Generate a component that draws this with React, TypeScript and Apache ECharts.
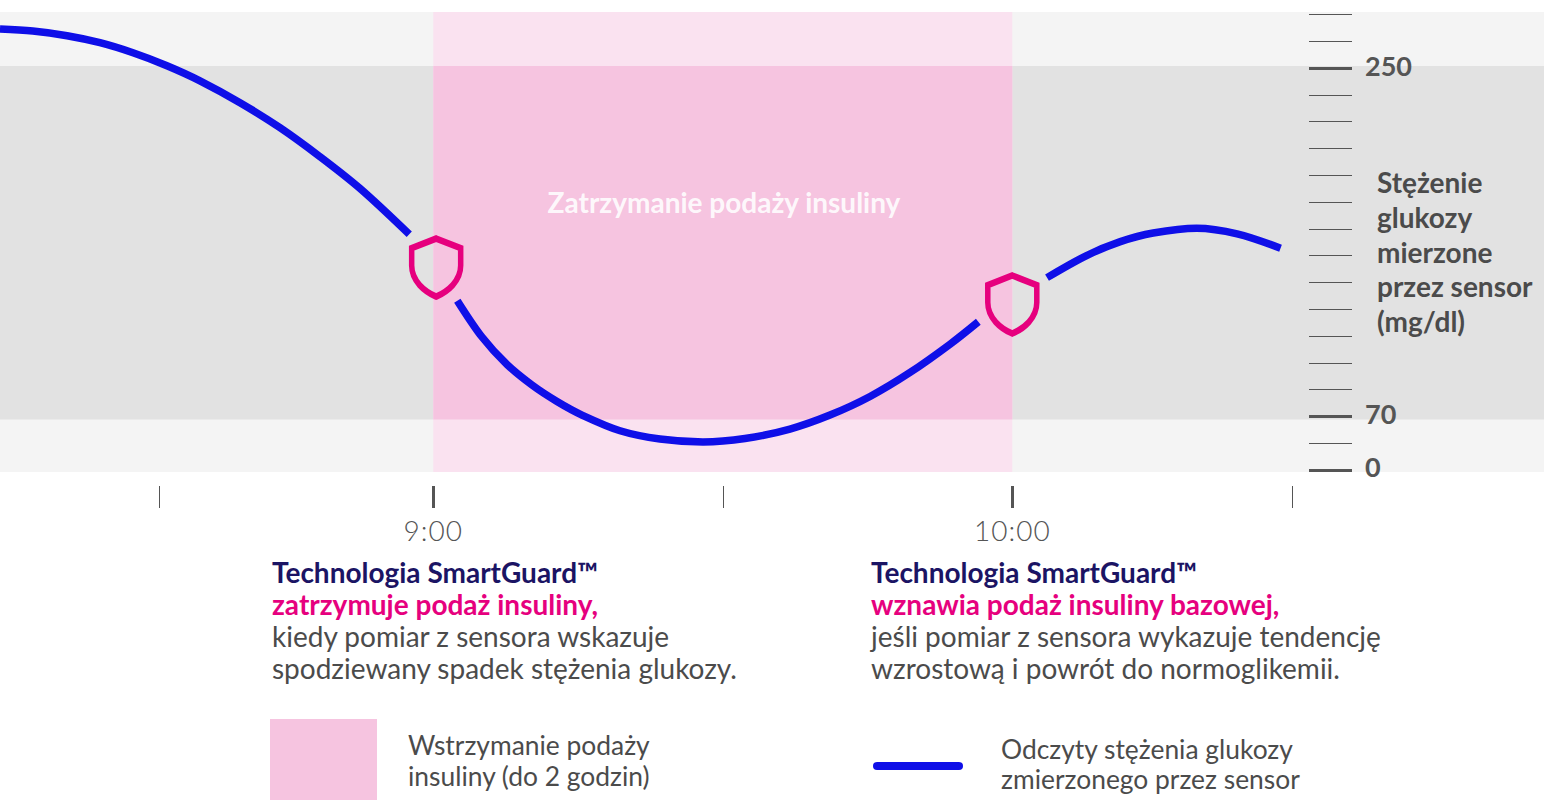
import React, { useEffect, useRef } from "react";
import * as echarts from "echarts";

// x in minutes after 9:00, y in mg/dL
const curveBefore: [number, number][] = [[-44.9, 270.1], [-41.5, 269.1], [-37.95, 266.7], [-34.54, 263.1], [-31.12, 257.9], [-27.6, 251.2], [-24.18, 243.4], [-20.03, 232.1], [-15.89, 219.2], [-11.74, 204.2], [-7.6, 187.8], [-2.49, 164.1]];
const curveDuring: [number, number][] = [[2.49, 129.8], [5.05, 111], [7.64, 96.8], [10.23, 86.2], [12.82, 77.7], [15.41, 70.7], [19.35, 51.3], [23.49, 40.5], [27.95, 36.6], [32.3, 41.1], [36.96, 53.5], [41.11, 70.7], [45.26, 80.3], [49.41, 92.7], [53.55, 107.3], [56.48, 118.9]];
const curveAfter: [number, number][] = [[63.6, 141.7], [67.7, 153.1], [71.2, 160.3], [74.6, 164.75], [79.1, 167.2], [83.3, 164.3], [87.8, 156.9]];
const shieldPoints: [number, number][] = [[0.3, 146.9], [60, 127.8]];

const suspendRange = [0, 60];
const targetRange = [66, 251];
const xMajorTicks = [0, 60];
const xMinorTicks = [-28.4, 30, 89];
const xLabels: Record<number, string> = { 0: "9:00", 60: "10:00" };
const yMajorTicks = [0, 70, 250];
const yMinorTicks = [35, 83.85, 97.69, 111.54, 125.38, 139.23, 153.08, 166.92, 180.77, 194.62, 208.46, 222.31, 236.15, 263.85, 277.69];

const left1 = ["Technologia SmartGuard™", "zatrzymuje podaż insuliny,", "kiedy pomiar z sensora wskazuje", "spodziewany spadek stężenia glukozy."];
const left2 = ["Technologia SmartGuard™", "wznawia podaż insuliny bazowej,", "jeśli pomiar z sensora wykazuje tendencję", "wzrostową i powrót do normoglikemii."];
const yTitle = "Stężenie\nglukozy\nmierzone\nprzez sensor\n(mg/dl)";
const pauseText = "Zatrzymanie podaży insuliny";
const legendPause = "Wstrzymanie podaży\ninsuliny (do 2 godzin)";
const legendCurve = "Odczyty stężenia glukozy\nzmierzonego przez sensor";

const FONT = "Lato";
const GREY = "#4b4b4b";
const NAVY = "#1b1464";
const PINK = "#e6007e";
const BLUE = "#0f0fe8";

// The axis is stretched between 0-70 and 70-250: 2 steps and 13 steps of equal length.
const toStep = (v: number) => (v <= 70 ? v / 35 : 2 + (v - 70) / (180 / 13));
const fromStep = (s: number) => (s <= 2 ? s * 35 : 70 + (s - 2) * (180 / 13));
const yMin = -0.075;
const yMax = 17.09;
const xMin = -44.9;
const xMax = 115.1;
const mapCurve = (c: [number, number][]) => c.map(([x, v]) => [x, toStep(v)]);

const SHIELD = "path://M24.5 0L49 10V28C49 44 36 55 24.5 60C13 55 0 44 0 28V10Z";

const textBlock = (x: number, lines: string[]) =>
  lines.map((t, i) => ({
    type: "text",
    x,
    y: 572 + i * 32,
    style: {
      text: t,
      fill: i === 0 ? NAVY : i === 1 ? PINK : GREY,
      font: `${i < 2 ? 700 : 400} 28px ${FONT}`,
      textVerticalAlign: "middle",
    },
  }));

export default function App() {
  const ref = useRef<HTMLDivElement>(null);
  useEffect(() => {
    const chart = echarts.init(ref.current!, undefined, { renderer: "svg" });
    const band = (x0: number, x1: number, v0: number, v1: number, color: string) => [
      { xAxis: x0, yAxis: v0, itemStyle: { color, opacity: 1 } },
      { xAxis: x1, yAxis: v1 },
    ];
    const low = toStep(targetRange[0]);
    const high = toStep(targetRange[1]);
    const lineSeries = (c: [number, number][]) => ({
      type: "line",
      data: mapCurve(c),
      smooth: 0.33,
      showSymbol: false,
      z: 4,
      lineStyle: { color: BLUE, width: 7.5, cap: "butt" },
      silent: true,
    });
    const axisX = (ticks: number[], width: number, labels: boolean) => ({
      type: "value",
      min: xMin,
      max: xMax,
      position: "bottom",
      offset: 14,
      splitLine: { show: false },
      axisLine: { show: false, onZero: false },
      axisTick: { show: true, customValues: ticks, length: 22, lineStyle: { color: "#555", width } },
      axisLabel: labels
        ? {
            show: true,
            customValues: ticks,
            margin: 30,
            color: "#555",
            fontFamily: FONT,
            fontWeight: 300,
            fontSize: 28,
            formatter: (v: number) => xLabels[v] ?? "",
          }
        : { show: false },
    });
    const axisY = (ticks: number[], width: number, labels: boolean) => ({
      type: "value",
      min: yMin,
      max: yMax,
      position: "right",
      offset: -235,
      z: 3,
      splitLine: { show: false },
      axisLine: { show: false, onZero: false },
      axisTick: { show: true, customValues: ticks.map(toStep), length: 43, lineStyle: { color: "#555", width } },
      axisLabel: labels
        ? {
            show: true,
            customValues: ticks.map(toStep),
            margin: 56,
            color: "#555",
            fontFamily: FONT,
            fontWeight: 700,
            fontSize: 27,
            verticalAlign: "bottom",
            lineHeight: 6,
            formatter: (s: number) => String(Math.round(fromStep(s))),
          }
        : { show: false },
    });
    chart.setOption({
      animation: false,
      backgroundColor: "#ffffff",
      grid: { left: 0, top: 12, width: 1544, height: 460, containLabel: false },
      xAxis: [axisX(xMajorTicks, 3, true), axisX(xMinorTicks, 1, false)],
      yAxis: [axisY(yMajorTicks, 3, true), axisY(yMinorTicks, 1, false)],
      series: [
        {
          type: "line",
          data: [],
          z: 1,
          silent: true,
          markArea: {
            silent: true,
            data: [
              band(xMin, xMax, yMin, yMax, "#f4f4f4"),
              band(xMin, xMax, low, high, "#e2e2e2"),
              band(suspendRange[0], suspendRange[1], yMin, yMax, "#fae2f0"),
              band(suspendRange[0], suspendRange[1], low, high, "#f6c4e0"),
            ],
          },
        },
        lineSeries(curveBefore),
        lineSeries(curveDuring),
        lineSeries(curveAfter),
        {
          type: "scatter",
          data: mapCurve(shieldPoints),
          symbol: SHIELD,
          symbolSize: [49, 58],
          z: 5,
          silent: true,
          itemStyle: { color: "rgba(0,0,0,0)", borderColor: PINK, borderWidth: 6, opacity: 1 },
        },
      ],
      graphic: [
        {
          type: "text",
          x: 724,
          y: 202,
          z: 6,
          style: { text: pauseText, fill: "rgba(255,255,255,0.9)", font: `700 28px ${FONT}`, textAlign: "center", textVerticalAlign: "middle" },
        },
        {
          type: "text",
          x: 1377,
          y: 165,
          z: 6,
          style: { text: yTitle, fill: GREY, font: `700 28px ${FONT}`, lineHeight: 34.7 },
        },
        ...textBlock(272, left1),
        ...textBlock(871, left2),
        { type: "rect", shape: { x: 270, y: 719, width: 107, height: 81 }, style: { fill: "#f6c4e0" } },
        { type: "text", x: 408, y: 729, style: { text: legendPause, fill: GREY, font: `400 26.4px ${FONT}`, lineHeight: 31 } },
        { type: "rect", shape: { x: 873, y: 762, width: 90, height: 8, r: 4 }, style: { fill: BLUE } },
        { type: "text", x: 1001, y: 734, style: { text: legendCurve, fill: GREY, font: `400 26.4px ${FONT}`, lineHeight: 30 } },
      ],
    });
    ref.current!.querySelectorAll("text").forEach((t) => {
      if (Object.values(xLabels).includes(t.textContent ?? "")) t.setAttribute("letter-spacing", "1");
    });
    return () => chart.dispose();
  }, []);
  return <div ref={ref} style={{ position: "absolute", left: 0, top: 0, width: 1544, height: 800 }} />;
}
